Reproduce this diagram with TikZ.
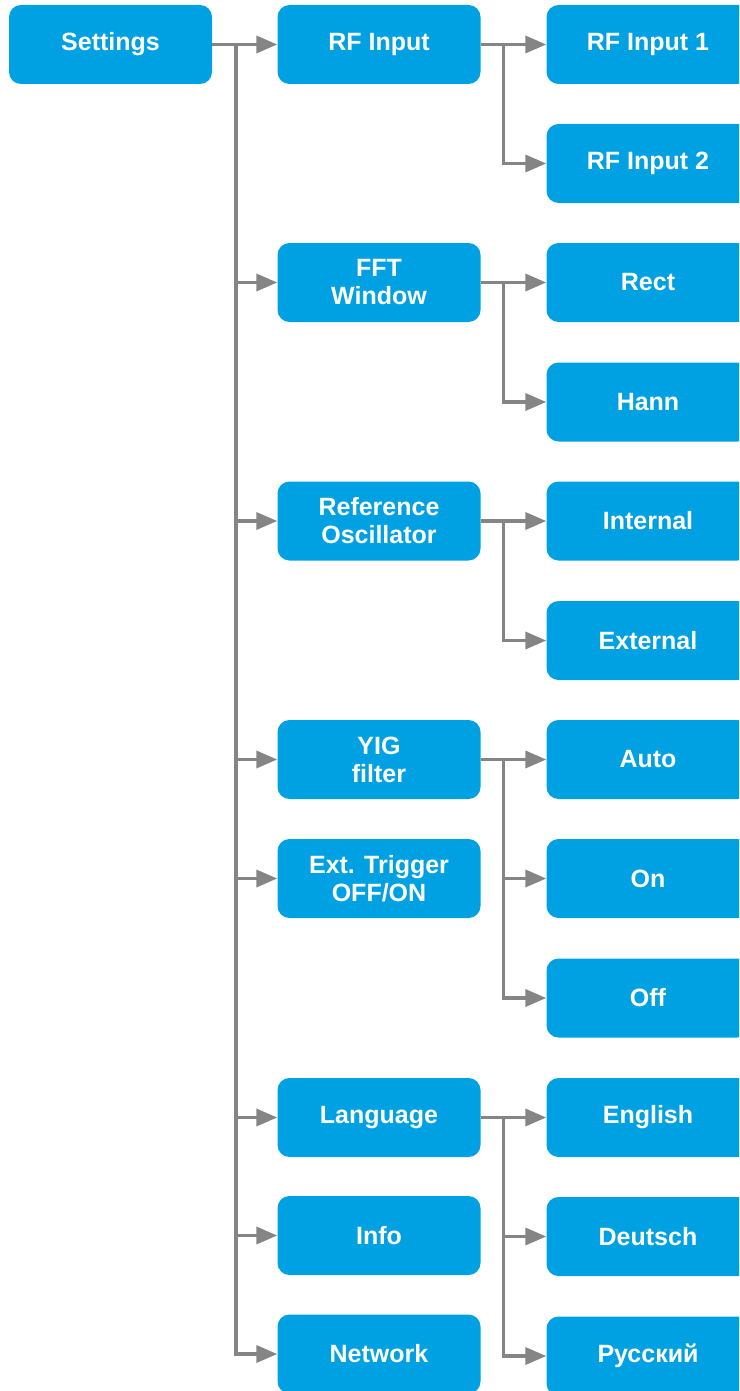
\documentclass[tikz,border=0pt]{standalone}
\usepackage{fontspec}
\setmainfont{Liberation Sans}
\usetikzlibrary{arrows.meta}
\definecolor{boxblue}{RGB}{0,161,226}
\definecolor{linegrey}{RGB}{133,133,133}
\begin{document}
\begin{tikzpicture}[x=1pt,y=-1pt,
  box/.style={fill=boxblue, rounded corners=12pt, minimum width=203pt, minimum height=79pt,
    inner sep=0pt, text=white, font=\fontsize{25}{28}\selectfont\bfseries, align=center},
  arr/.style={draw=linegrey, line width=3.5pt, -{Triangle[length=21pt,width=17pt]}}]
\useasboundingbox (0,0) rectangle (739,1391);
\clip (0,0) rectangle (739,1391);
% column 1
\node[box] (settings) at (110.5,44.5) {Settings};
% column 2
\node[box] (rf)   at (379,44.5)   {RF Input};
\node[box] (fft)  at (379,282.5)  {FFT\\Window};
\node[box] (ref)  at (379,521)    {Reference\\Oscillator};
\node[box] (yig)  at (379,759.5)  {YIG\\filter};
\node[box] (ext)  at (379,878.5)  {Ext. Trigger\\OFF/ON};
\node[box] (lang) at (379,1117.5) {Language};
\node[box] (info) at (379,1235.5) {Info};
\node[box] (net)  at (379,1354)   {Network};
% column 3
\node[box] (rf1)  at (648,44.5)   {RF Input 1};
\node[box] (rf2)  at (648,163.5)  {RF Input 2};
\node[box] (rect) at (648,282.5)  {Rect};
\node[box] (hann) at (648,402)    {Hann};
\node[box] (int)  at (648,521)    {Internal};
\node[box] (extr) at (648,640.5)  {External};
\node[box] (auto) at (648,759.5)  {Auto};
\node[box] (on)   at (648,878.5)  {On};
\node[box] (off)  at (648,998)    {Off};
\node[box] (en)   at (648,1117.5) {English};
\node[box] (de)   at (648,1236.5) {Deutsch};
\node[box] (ru)   at (648,1356)   {Русский};
% connectors from Settings
\foreach \c in {rf,fft,ref,yig,ext,lang,info,net}
  \draw[arr] (settings.east) -- ++(24,0) |- (\c.west);
% connectors to column 3
\foreach \c in {rf1,rf2}     \draw[arr] (rf.east) -- ++(23,0) |- (\c.west);
\foreach \c in {rect,hann}   \draw[arr] (fft.east) -- ++(23,0) |- (\c.west);
\foreach \c in {int,extr}    \draw[arr] (ref.east) -- ++(23,0) |- (\c.west);
\foreach \c in {auto,on,off} \draw[arr] (yig.east) -- ++(23,0) |- (\c.west);
\foreach \c in {en,de,ru}    \draw[arr] (lang.east) -- ++(23,0) |- (\c.west);
\end{tikzpicture}
\end{document}
